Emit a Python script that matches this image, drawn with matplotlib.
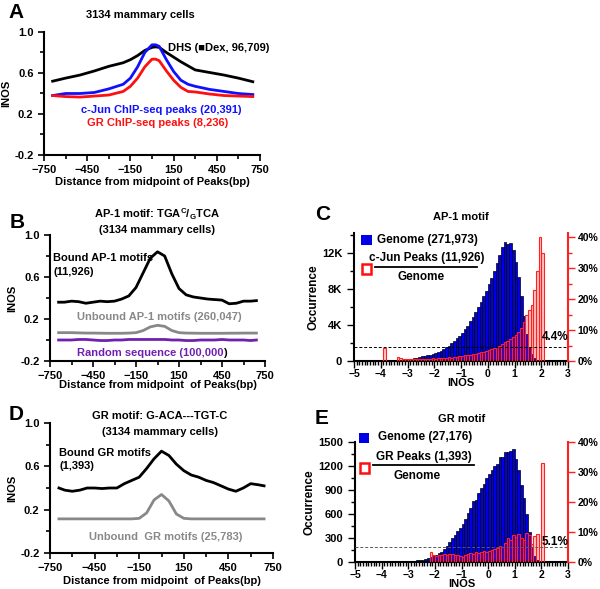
import numpy as np
import matplotlib
matplotlib.use("Agg")
import matplotlib.pyplot as plt
from matplotlib.patches import Rectangle
from matplotlib.lines import Line2D
from matplotlib.ticker import MultipleLocator

plt.rcParams['font.family'] = ['Liberation Sans', 'DejaVu Sans']
plt.rcParams['font.weight'] = 'bold'
plt.rcParams['mathtext.fontset'] = 'custom'
plt.rcParams['mathtext.rm'] = 'Liberation Sans:bold'
plt.rcParams['mathtext.bf'] = 'Liberation Sans:bold'

W, H = 600, 589

# ---------------- A : 3134 mammary cells ----------------
pos_a = [-690, -600, -500, -400, -300, -200, -150, -100, -50, 0, 25, 50, 100, 150, 200, 250, 300, 400, 500, 600, 700]
dhs = [0.52, 0.55, 0.58, 0.62, 0.665, 0.70, 0.73, 0.77, 0.82, 0.85, 0.855, 0.85, 0.80, 0.755, 0.71, 0.67, 0.63, 0.605, 0.58, 0.55, 0.515]
cjun = [0.38, 0.40, 0.40, 0.41, 0.445, 0.49, 0.55, 0.66, 0.80, 0.875, 0.875, 0.86, 0.73, 0.615, 0.53, 0.49, 0.47, 0.44, 0.42, 0.40, 0.39]
gr = [0.38, 0.37, 0.365, 0.375, 0.385, 0.42, 0.47, 0.55, 0.66, 0.735, 0.735, 0.72, 0.62, 0.53, 0.46, 0.42, 0.415, 0.395, 0.38, 0.375, 0.37]

# ---------------- B : AP-1 motif ----------------
pos_b = [-690, -650, -600, -550, -500, -450, -400, -350, -300, -250, -200, -150, -100, -50, 0, 50, 100, 150, 200, 250, 300, 350, 400, 450, 500, 550, 600, 650, 690]
bound_ap1 = [0.36, 0.36, 0.37, 0.365, 0.35, 0.36, 0.37, 0.365, 0.37, 0.39, 0.42, 0.50, 0.64, 0.78, 0.84, 0.80, 0.63, 0.49, 0.43, 0.41, 0.40, 0.39, 0.385, 0.38, 0.345, 0.35, 0.37, 0.37, 0.375]
unbound_ap1 = [0.07, 0.07, 0.07, 0.068, 0.066, 0.066, 0.065, 0.064, 0.064, 0.064, 0.066, 0.07, 0.09, 0.125, 0.14, 0.13, 0.09, 0.07, 0.066, 0.065, 0.064, 0.064, 0.064, 0.064, 0.065, 0.065, 0.066, 0.066, 0.066]
random_seq = [0.0, 0.0, 0.0, 0.005, 0.005, 0.0, -0.005, -0.005, 0.0, 0.0, 0.005, 0.005, 0.005, 0.005, 0.005, 0.005, 0.0, 0.0, -0.005, -0.005, 0.0, 0.0, 0.0, 0.005, 0.0, 0.0, 0.0, -0.005, 0.0]

# ---------------- D : GR motif ----------------
pos_d = pos_b
bound_gr = [0.40, 0.38, 0.37, 0.38, 0.40, 0.40, 0.395, 0.40, 0.40, 0.44, 0.47, 0.50, 0.58, 0.67, 0.74, 0.70, 0.62, 0.56, 0.52, 0.50, 0.47, 0.45, 0.42, 0.39, 0.37, 0.40, 0.44, 0.43, 0.42]
unbound_gr = [0.115, 0.115, 0.115, 0.115, 0.115, 0.115, 0.115, 0.115, 0.115, 0.115, 0.115, 0.12, 0.17, 0.29, 0.34, 0.28, 0.16, 0.12, 0.115, 0.115, 0.115, 0.115, 0.115, 0.115, 0.115, 0.115, 0.115, 0.115, 0.115]

# ---------------- C : AP-1 INOS histogram ----------------
bins_genome_c = [-3.8, -3.7, -3.6, -3.5, -3.4, -3.3, -3.2, -3.1, -3.0, -2.9, -2.8, -2.7, -2.6, -2.5, -2.4, -2.3, -2.2, -2.1,
                 -2.0, -1.9, -1.8, -1.7, -1.6, -1.5, -1.4, -1.3, -1.2, -1.1, -1.0, -0.9, -0.8, -0.7, -0.6, -0.5, -0.4, -0.3,
                 -0.2, -0.1, 0.0, 0.1, 0.2, 0.3, 0.4, 0.5, 0.6, 0.7, 0.8, 0.9, 1.0, 1.1, 1.2, 1.3, 1.4, 1.5, 1.6, 1.7, 1.8, 1.9]
genome_c = [20, 30, 40, 50, 80, 100, 120, 150, 200, 250, 300, 350, 420, 500, 580, 650, 720, 800,
            900, 1000, 1150, 1300, 1500, 1700, 1950, 2200, 2500, 2800, 3100, 3500, 3900, 4400, 4900, 5400, 6000, 6600,
            7200, 7800, 8500, 9200, 10000, 10900, 11800, 12600, 13200, 13000, 13100, 12300, 11000, 9300, 7200, 5000, 3000, 1600, 800, 350, 150, 50]
bins_ratio_c = [-3.9, -3.4, -3.3, -3.2, -3.1, -3.0, -2.9, -2.8, -2.7, -2.6, -2.5, -2.4, -2.3, -2.2, -2.1,
                -2.0, -1.9, -1.8, -1.7, -1.6, -1.5, -1.4, -1.3, -1.2, -1.1, -1.0, -0.9, -0.8, -0.7, -0.6, -0.5, -0.4, -0.3,
                -0.2, -0.1, 0.0, 0.1, 0.2, 0.3, 0.4, 0.5, 0.6, 0.7, 0.8, 0.9, 1.0, 1.1, 1.2, 1.3, 1.4, 1.5, 1.6, 1.7, 1.8, 1.9, 2.0]
ratio_c = [4.2, 1.4, 1.1, 0.8, 0.6, 0.7, 0.5, 0.6, 0.5, 0.6, 0.7, 0.6, 0.7, 0.8, 0.9,
           0.8, 0.9, 1.0, 1.0, 1.1, 1.2, 1.1, 1.3, 1.4, 1.5, 1.6, 1.8, 1.9, 2.0, 2.2, 2.4, 2.6, 2.8,
           3.0, 3.3, 3.5, 3.9, 4.2, 4.6, 5.0, 5.5, 6.0, 6.4, 7.0, 7.6, 8.3, 9.2, 10.5, 12.5, 15.0, 16.5, 18.0, 23.0, 29.0, 40.0, 35.0]
avg_c = 4.4

# ---------------- E : GR INOS histogram ----------------
bins_genome_e = [-2.8, -2.7, -2.6, -2.5, -2.4, -2.3, -2.2, -2.1, -2.0, -1.9, -1.8, -1.7, -1.6, -1.5, -1.4, -1.3, -1.2, -1.1,
                 -1.0, -0.9, -0.8, -0.7, -0.6, -0.5, -0.4, -0.3, -0.2, -0.1, 0.0, 0.1, 0.2, 0.3, 0.4, 0.5, 0.6, 0.7, 0.8, 0.9,
                 1.0, 1.1, 1.2, 1.3, 1.4, 1.5, 1.6, 1.7, 1.8]
genome_e = [15, 20, 25, 30, 40, 50, 60, 75, 90, 110, 130, 160, 200, 250, 300, 340, 390, 430,
            480, 540, 610, 680, 760, 780, 860, 920, 980, 1050, 1100, 1150, 1200, 1230, 1310, 1310, 1380, 1370, 1390, 1410,
            1290, 1150, 960, 800, 600, 380, 190, 80, 25]
bins_ratio_e = [-2.2, -2.1, -2.0, -1.9, -1.8, -1.7, -1.6, -1.5, -1.4, -1.3, -1.2, -1.1, -1.0, -0.9, -0.8, -0.7, -0.6, -0.5,
                -0.4, -0.3, -0.2, -0.1, 0.0, 0.1, 0.2, 0.3, 0.4, 0.5, 0.6, 0.7, 0.8, 0.9, 1.0, 1.1, 1.2, 1.3, 1.4, 1.5,
                1.6, 1.7, 1.8, 2.0]
ratio_e = [3.2, 2.2, 2.0, 2.5, 2.3, 2.6, 2.4, 2.6, 2.8, 2.5, 2.3, 2.0, 1.8, 2.2, 2.6, 3.0, 2.8, 3.3,
           3.0, 3.2, 3.8, 3.5, 3.8, 4.0, 4.2, 4.8, 5.5, 5.0, 6.5, 8.0, 7.5, 9.0, 8.2, 9.5, 8.0, 7.5, 9.6, 9.0,
           6.0, 8.8, 9.5, 33.0]
avg_e = 5.1

FS = 8
TS = 7.5


def box(l, r, t, b):
    return [l / W, 1 - b / H, (r - l) / W, (b - t) / H]


def ftext(x, y, s, **kw):
    kw.setdefault('fontsize', FS)
    kw.setdefault('fontweight', 'bold')
    return fig.text(x / W, 1 - y / H, s, **kw)


def profile_axes(ax):
    ax.set_xlim(-750, 750)
    ax.set_ylim(-0.2, 1.0)
    ax.set_xticks([-750, -450, -150, 150, 450, 750])
    ax.xaxis.set_minor_locator(MultipleLocator(150))
    ax.set_yticks([-0.2, 0.2, 0.6, 1.0])
    ax.set_yticklabels(['-0.2', '0.2', '0.6', '1.0'])
    ax.yaxis.set_minor_locator(MultipleLocator(0.2))
    for s in ['top', 'right']:
        ax.spines[s].set_visible(False)
    for s in ['left', 'bottom']:
        ax.spines[s].set_linewidth(1.5)
    ax.tick_params(which='both', direction='out', width=1.2, labelsize=TS + 0.5)
    ax.tick_params(which='major', length=4)
    ax.tick_params(which='minor', length=3)
    ax.set_ylabel('INOS', fontsize=FS, fontweight='bold', labelpad=2)


fig = plt.figure(figsize=(6, 5.89), dpi=100)

# A
axA = fig.add_axes(box(44, 260, 32, 155))
axA.plot(pos_a, dhs, color='black', lw=2)
axA.plot(pos_a, cjun, color='#1010ff', lw=2)
axA.plot(pos_a, gr, color='#ff1010', lw=2)
profile_axes(axA)
axA.set_xlabel('Distance from midpoint of Peaks(bp)', fontsize=FS, fontweight='bold', labelpad=1)
ftext(140, 15, '3134 mammary cells', ha='center', va='center')
ftext(168, 48, 'DHS (\u25a0Dex, 96,709)', ha='left', va='center')
ftext(161, 110, 'c-Jun ChIP-seq peaks (20,391)', ha='center', va='center', color='#1010ff')
ftext(158, 123, 'GR ChIP-seq peaks (8,236)', ha='center', va='center', color='#ff1010')

# B
axB = fig.add_axes(box(50, 265, 235, 361))
axB.plot(pos_b, bound_ap1, color='black', lw=2)
axB.plot(pos_b, unbound_ap1, color='#888888', lw=2)
axB.plot(pos_b, random_seq, color='#7020b0', lw=2)
profile_axes(axB)
axB.set_xlabel('Distance from midpoint  of Peaks(bp)', fontsize=FS, fontweight='bold', labelpad=-1)
ftext(157, 214, r'AP-1 motif: TGA$^{\mathbf{C}}$/$_{\mathbf{G}}$TCA', ha='center', va='center')
ftext(157, 230, '(3134 mammary cells)', ha='center', va='center')
ftext(53, 258, 'Bound AP-1 motifs', ha='left', va='center')
ftext(53, 272, '(11,926)', ha='left', va='center')
ftext(159, 317, 'Unbound AP-1 motifs (260,047)', ha='center', va='center', color='#888888')
rnd = ftext(77, 353, 'Random sequence (100,000', ha='left', va='center', color='#7020b0')
axB.annotate(')', xy=(1.0, 0.5), xycoords=rnd, ha='left', va='center',
             fontsize=FS, fontweight='bold', color='black', annotation_clip=False)

# D
axD = fig.add_axes(box(50, 273, 423, 553))
axD.plot(pos_d, bound_gr, color='black', lw=2)
axD.plot(pos_d, unbound_gr, color='#888888', lw=2)
profile_axes(axD)
axD.set_xlabel('Distance from midpoint  of Peaks(bp)', fontsize=FS, fontweight='bold', labelpad=2)
ftext(160, 416, 'GR motif: G-ACA---TGT-C', ha='center', va='center')
ftext(160, 432, '(3134 mammary cells)', ha='center', va='center')
ftext(59, 453, 'Bound GR motifs', ha='left', va='center')
ftext(59, 466, '(1,393)', ha='left', va='center')
ftext(166, 537, 'Unbound  GR motifs (25,783)', ha='center', va='center', color='#888888')


def hist_axes(rect, bins_g, genome, bins_r, ratio, avg, ymax, ymajor, yminor, ylabels, rmax, rminor, dash_color):
    ax = fig.add_axes(rect)
    ax.bar(bins_g, genome, width=0.1, align='edge', color='#0000e6', edgecolor='black', lw=0.5)
    ax.set_xlim(-5, 3)
    ax.set_ylim(0, ymax)
    ax.set_yticks(ymajor)
    ax.set_yticklabels(ylabels)
    if yminor:
        ax.yaxis.set_minor_locator(MultipleLocator(yminor))
    ax.set_xticks(range(-5, 4))
    ax.xaxis.set_minor_locator(MultipleLocator(0.1))
    ax.spines['top'].set_visible(False)
    ax.spines['right'].set_visible(False)
    for s in ['left', 'bottom']:
        ax.spines[s].set_linewidth(1.5)
    ax.tick_params(which='both', direction='out', width=1.0, labelsize=TS + 0.5)
    ax.tick_params(which='major', length=5)
    ax.tick_params(which='minor', length=3)
    ax.tick_params(axis='x', which='major', pad=1, labelsize=TS)
    ax.set_xlabel('INOS', fontsize=FS, fontweight='bold', labelpad=-1)
    ax.set_ylabel('Occurrence', fontsize=FS + 0.5, fontweight='bold', labelpad=2)
    ax2 = ax.twinx()
    ax2.bar(bins_r, ratio, width=0.1, align='edge', facecolor=(1, 0, 0, 0.22), edgecolor='#ff2020', lw=0.8)
    ax2.axhline(avg, ls=(0, (3, 2)), color=dash_color, lw=0.7)
    ax2.set_ylim(0, rmax)
    ax2.set_yticks([0, 10, 20, 30, 40])
    ax2.set_yticklabels(['0%', '10%', '20%', '30%', '40%'])
    if rminor:
        ax2.yaxis.set_minor_locator(MultipleLocator(rminor))
    for s in ['top', 'left', 'bottom']:
        ax2.spines[s].set_visible(False)
    ax2.spines['right'].set_color('#ff2020')
    ax2.spines['right'].set_linewidth(1.5)
    ax2.tick_params(which='both', direction='out', color='#ff2020', width=1.0, labelsize=TS, pad=2)
    ax2.tick_params(which='major', length=5)
    ax2.tick_params(which='minor', length=3)
    return ax, ax2


# C
axC, axC2 = hist_axes(box(354, 568, 233, 361), bins_genome_c, genome_c, bins_ratio_c, ratio_c, avg_c,
                      14200, [0, 4000, 8000, 12000], 2000, ['0', '4K', '8K', '12K'], 41.3, 5, 'black')
ftext(461, 217, 'AP-1 motif', ha='center', va='center')
ftext(568, 337, '4.4%', ha='right', va='center', fontsize=FS + 0.5)
fig.add_artist(Rectangle((361 / W, 1 - 245 / H), 11 / W, 10 / H, transform=fig.transFigure,
                         facecolor='#0000e6', edgecolor='none'))
fig.add_artist(Rectangle((362 / W, 1 - 274 / H), 9 / W, 10 / H, transform=fig.transFigure,
                         facecolor='white', edgecolor='#ff1010', lw=1.8))
ftext(377, 240, 'Genome (271,973)', ha='left', va='center', fontsize=FS + 0.5)
ftext(427, 258, 'c-Jun Peaks (11,926)', ha='center', va='center', fontsize=FS + 0.5)
fig.add_artist(Line2D([375 / W, 477 / W], [1 - 267 / H, 1 - 267 / H], transform=fig.transFigure, color='black', lw=1.3))
ftext(421, 277, 'Genome', ha='center', va='center', fontsize=FS + 0.5)

# E
axE, axE2 = hist_axes(box(355, 568, 442, 562), bins_genome_e, genome_e, bins_ratio_e, ratio_e, avg_e,
                      1500, [0, 300, 600, 900, 1200, 1500], 150, ['0', '300', '600', '900', '1200', '1500'], 40, None, '0.35')
ftext(462, 419, 'GR motif', ha='center', va='center')
ftext(568, 542, '5.1%', ha='right', va='center', fontsize=FS + 0.5)
fig.add_artist(Rectangle((359 / W, 1 - 443 / H), 10 / W, 10 / H, transform=fig.transFigure,
                         facecolor='#0000e6', edgecolor='none'))
fig.add_artist(Rectangle((360 / W, 1 - 473 / H), 9 / W, 10 / H, transform=fig.transFigure,
                         facecolor='white', edgecolor='#ff1010', lw=1.8))
ftext(378, 437, 'Genome (27,176)', ha='left', va='center', fontsize=FS + 0.5)
ftext(424, 457, 'GR Peaks (1,393)', ha='center', va='center', fontsize=FS + 0.5)
fig.add_artist(Line2D([373 / W, 474 / W], [1 - 465 / H, 1 - 465 / H], transform=fig.transFigure, color='black', lw=1.3))
ftext(417, 476, 'Genome', ha='center', va='center', fontsize=FS + 0.5)

# panel letters
for letter, x, y in [('A', 16, 12), ('B', 17, 222), ('C', 323, 215), ('D', 16, 414), ('E', 322, 418)]:
    ftext(x, y, letter, ha='center', va='center', fontsize=15)

fig.savefig('out.png', dpi=100)
